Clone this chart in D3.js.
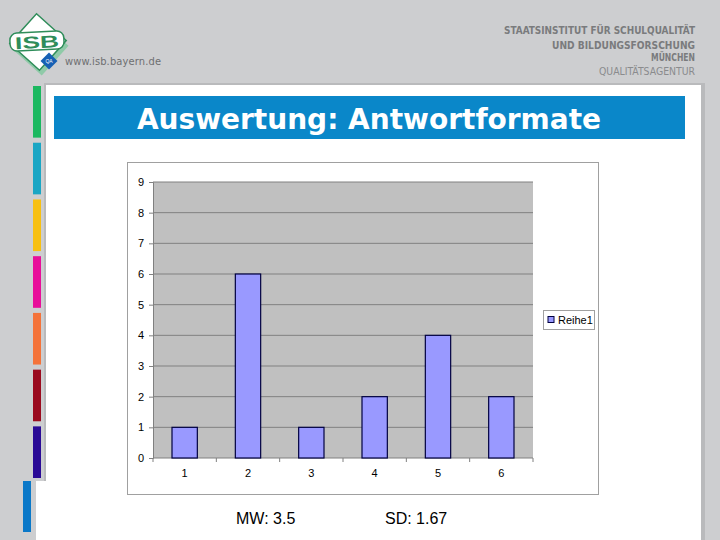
<!DOCTYPE html>
<html><head><meta charset="utf-8">
<script src="https://cdn.jsdelivr.net/npm/d3@7/dist/d3.min.js"></script>
<style>html,body{margin:0;padding:0;background:#cdced0;}svg{display:block;}</style>
</head><body>
<svg id="c" width="720" height="540"></svg>
<script>
const categories = ["1","2","3","4","5","6"];
const values = [1,6,1,2,4,2];
const yTicks = [0,1,2,3,4,5,6,7,8,9];
const seriesName = "Reihe1";
const title = "Auswertung: Antwortformate";
const stats = ["MW: 3.5","SD: 1.67"];
const headerLines = ["STAATSINSTITUT FÜR SCHULQUALITÄT","UND BILDUNGSFORSCHUNG","MÜNCHEN","QUALITÄTSAGENTUR"];
const stripColors = ["#1cb860","#1aa6c4","#f7c012","#e80e9a","#f4733a","#9a0a1e","#2a0a96"];

const svg = d3.select("#c");
svg.append("rect").attr("width",720).attr("height",540).attr("fill","#cdced0");

// slide panel shadow + white panel
svg.append("rect").attr("x",44).attr("y",83).attr("width",661).attr("height",460).attr("fill","#b9babc");
svg.append("rect").attr("x",46).attr("y",85).attr("width",655).attr("height",455).attr("fill","#ffffff");
svg.append("rect").attr("x",36).attr("y",481).attr("width",12).attr("height",59).attr("fill","#ffffff");

// colour strips
const stripY = d3.scaleBand().domain(d3.range(stripColors.length)).range([86,478]).paddingInner(0.09);
svg.selectAll("rect.strip").data(stripColors).join("rect").attr("class","strip")
  .attr("x",33).attr("width",8).attr("y",(d,i)=>stripY(i)).attr("height",stripY.bandwidth()).attr("fill",d=>d);
svg.append("rect").attr("x",23).attr("y",481).attr("width",8).attr("height",51).attr("fill","#0a78c8");

// logo
const logo = svg.append("g").attr("transform","translate(38,42) rotate(-3)");
logo.append("rect").attr("x",-19).attr("y",-19).attr("width",40).attr("height",40).attr("transform","translate(2,4) rotate(45)").attr("fill","#8fcaa8");
logo.append("rect").attr("x",-20).attr("y",-20).attr("width",40).attr("height",40).attr("transform","rotate(45)").attr("fill","#fff").attr("stroke","#2f8d5a").attr("stroke-width",1.5);
logo.append("rect").attr("x",-28).attr("y",-10).attr("width",54).attr("height",18).attr("rx",7).attr("fill","#fff").attr("stroke","#2f8d5a").attr("stroke-width",1.5);
logo.append("text").attr("x",-1).attr("y",6).attr("text-anchor","middle").attr("font-family","Arial, Liberation Sans, sans-serif").attr("font-weight","bold").attr("font-size",17).attr("textLength",44).attr("lengthAdjust","spacingAndGlyphs").attr("fill","#2f8d5a").text("ISB");
svg.append("rect").attr("x",-6).attr("y",-6).attr("width",12).attr("height",12).attr("transform","translate(49,61) rotate(45)").attr("fill","#1660b4");
svg.append("text").attr("x",49).attr("y",63).attr("text-anchor","middle").attr("font-size",5).attr("font-family","Arial, sans-serif").attr("fill","#fff").text("QA");
svg.append("text").attr("x",65).attr("y",65).attr("font-family","'DejaVu Sans Condensed','Liberation Sans Narrow',Arial,sans-serif").attr("font-size",11).attr("fill","#6d6e70").attr("textLength",96).text("www.isb.bayern.de");

// header text
const hw = [191,143,44,96];
svg.selectAll("text.hdr").data(headerLines).join("text").attr("class","hdr")
  .attr("x",695).attr("y",(d,i)=>[34,49,61,75][i]).attr("text-anchor","end")
  .attr("font-family","'DejaVu Sans Condensed','Liberation Sans Narrow',Arial,sans-serif")
  .attr("font-size",11).attr("font-weight",(d,i)=>i<3?"bold":"normal")
  .attr("textLength",(d,i)=>hw[i]).attr("lengthAdjust","spacingAndGlyphs")
  .attr("fill",(d,i)=>i<3?"#7a7b7d":"#8a8b8d")
  .text(d=>d);

// title bar
svg.append("rect").attr("x",54).attr("y",96).attr("width",631).attr("height",43).attr("fill","#0a87c9");
svg.append("text").attr("x",369).attr("y",129).attr("text-anchor","middle").attr("fill","#fff")
  .attr("font-family","'DejaVu Sans',Verdana,sans-serif").attr("font-weight","bold").attr("font-size",28).text(title);

// chart frame
svg.append("rect").attr("x",127.5).attr("y",162.5).attr("width",471).attr("height",332).attr("fill","#fff").attr("stroke","#a0a0a0").attr("stroke-width",1);

const x = d3.scaleBand().domain(categories).range([153,533]).paddingInner(0.6).paddingOuter(0.3);
const y = d3.scaleLinear().domain([0,9]).range([458,182]);

svg.append("rect").attr("x",153).attr("y",182).attr("width",380).attr("height",276).attr("fill","#c0c0c0");

// gridlines
svg.selectAll("line.grid").data(yTicks.slice(1)).join("line").attr("class","grid")
  .attr("x1",153).attr("x2",533).attr("y1",d=>y(d)).attr("y2",d=>y(d)).attr("stroke","#808080").attr("stroke-width",1);

// axes
const yAxis = d3.axisLeft(y).tickValues(yTicks).tickSize(4).tickPadding(5);
const gy = svg.append("g").attr("transform","translate(153,0)").call(yAxis);
gy.select(".domain").attr("stroke","#808080");
gy.selectAll(".tick line").attr("stroke","#808080");
gy.selectAll("text").attr("font-family","Arial, 'Liberation Sans', sans-serif").attr("font-size",11).attr("fill","#000");

const gx = svg.append("g").attr("transform","translate(0,458)");
gx.append("line").attr("x1",153).attr("x2",533).attr("y1",0).attr("y2",0).attr("stroke","#808080");
const bounds = d3.range(categories.length+1).map(i=>153 + i*x.step());
gx.selectAll("line.tk").data(bounds).join("line").attr("class","tk")
  .attr("x1",d=>d).attr("x2",d=>d).attr("y1",0).attr("y2",4).attr("stroke","#808080");
gx.selectAll("text").data(categories).join("text")
  .attr("x",d=>x(d)+x.bandwidth()/2).attr("y",19).attr("text-anchor","middle")
  .attr("font-family","Arial, 'Liberation Sans', sans-serif").attr("font-size",11).attr("fill","#000").text(d=>d);

// bars
svg.selectAll("rect.bar").data(values).join("rect").attr("class","bar")
  .attr("x",(d,i)=>x(categories[i])).attr("width",x.bandwidth())
  .attr("y",d=>y(d)).attr("height",d=>y(0)-y(d))
  .attr("fill","#9999ff").attr("stroke","#000040").attr("stroke-width",1.2);

// legend
svg.append("rect").attr("x",543.5).attr("y",310.5).attr("width",51).attr("height",19).attr("fill","#fff").attr("stroke","#a0a0a0");
svg.append("rect").attr("x",548).attr("y",316.5).attr("width",6).attr("height",6).attr("fill","#9999ff").attr("stroke","#000040");
svg.append("text").attr("x",558).attr("y",324).attr("font-family","Arial, 'Liberation Sans', sans-serif").attr("font-size",11).attr("fill","#000").text(seriesName);

// stats
svg.selectAll("text.stat").data(stats).join("text").attr("class","stat")
  .attr("x",(d,i)=>[236,385][i]).attr("y",524)
  .attr("font-family","Arial, 'Liberation Sans', sans-serif").attr("font-size",16).attr("fill","#000").text(d=>d);
</script>
</body></html>
